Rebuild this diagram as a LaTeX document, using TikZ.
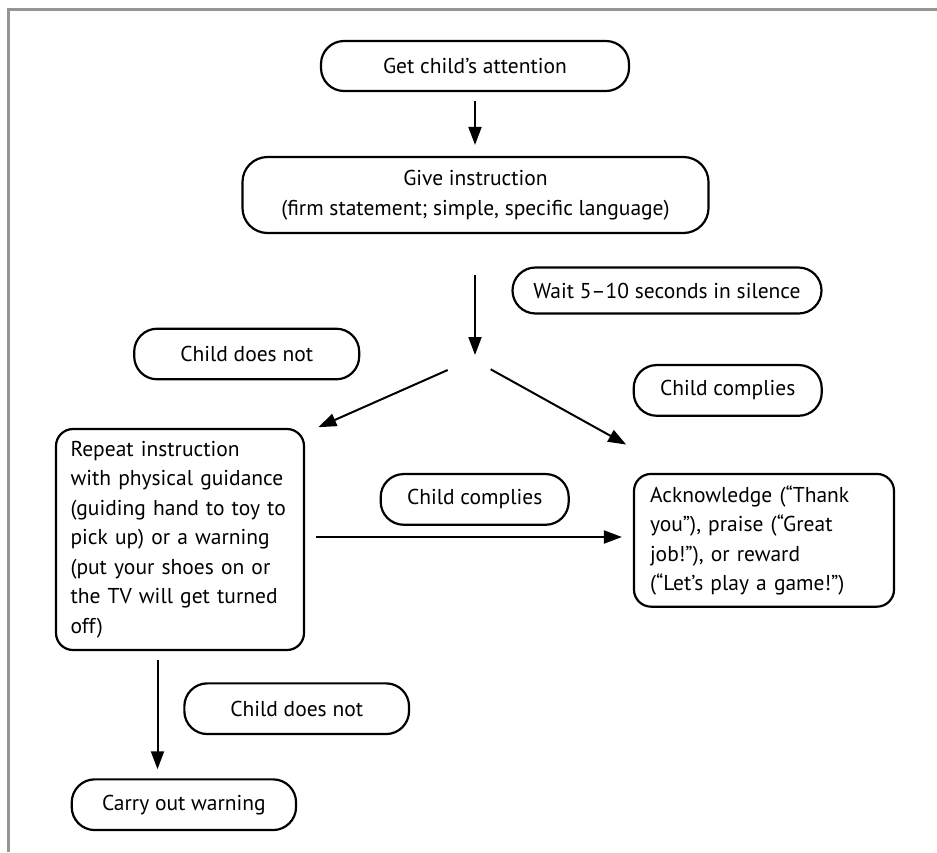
\documentclass[tikz,border=0pt]{standalone}
\usepackage{fontspec}
\setmainfont{PT Sans}
\usetikzlibrary{arrows.meta,calc}
\definecolor{frameGray}{HTML}{959595}
\begin{document}
\begin{tikzpicture}[x=1pt,y=-1pt,
  box/.style={draw=black, line width=2.2pt, rounded corners=#1, inner sep=0pt,
              font=\fontsize{21.5}{29.5}\selectfont},
  box/.default=23pt,
  arr/.style={line width=2pt, -{Triangle[length=18pt,width=13pt]}},
  frame/.style={draw=frameGray, line width=3pt}]
\useasboundingbox (0,0) rectangle (937,852);

% page frame (top and left edges)
\draw[frame] (8.5,852) -- (8.5,9.5) -- (937,9.5);

% steps
\node[box, minimum width=308pt, minimum height=50pt] (attn) at (475,66) {Get child’s attention};
\node[box=25pt, minimum width=466pt, minimum height=76pt, align=center] (instr) at (475.5,195)
  {Give instruction\\(firm statement; simple, specific language)};
\node[box, minimum width=309pt, minimum height=46pt] (wait) at (667,290.5) {Wait 5–10 seconds in silence};
\node[box, minimum width=225pt, minimum height=50.6pt] (notA) at (246.7,354) {Child does not};
\node[box, minimum width=188pt, minimum height=50.7pt] (compA) at (727.7,390.4) {Child complies};
\node[box=17pt, minimum width=248pt, minimum height=221pt, text width=219pt, align=left] (repeat) at (180,539.5)
  {Repeat instruction\\with physical guidance\\(guiding hand to toy to\\pick up) or a warning\\(put your shoes on or\\the TV will get turned\\off)};
\node[box, minimum width=188pt, minimum height=50.7pt] (compB) at (474.7,499.4) {Child complies};
\node[box=17pt, minimum width=260pt, minimum height=132.7pt, text width=228pt, align=left] (ack) at (764,540.3)
  {Acknowledge (“Thank\\you”), praise (“Great\\job!”), or reward\\(“Let’s play a game!”)};
\node[box, minimum width=224.7pt, minimum height=50.7pt] (notB) at (296.7,708.7) {Child does not};
\node[box, minimum width=224.3pt, minimum height=50.7pt] (carry) at (183.9,804.7) {Carry out warning};

% connectors
\coordinate (fork) at (475,355);
\coordinate (forkL) at (447.7,370);
\coordinate (forkR) at (490.7,369.3);
\draw[arr, shorten <=9pt, shorten >=11pt] (attn.south) -- (attn.south |- instr.north);
\draw[arr, shorten <=41pt] (instr.south -| fork) -- (fork);
\draw[arr] (forkL) -- ($(repeat.north east)+(13.3,-0.7)$);
\draw[arr] (forkR) -- ($(ack.north west)+(-6.7,-28.3)$);
\draw[arr, shorten <=11pt, shorten >=11pt] ([yshift=2.5pt]repeat.east) -- ([yshift=2.5pt]repeat.east -| ack.west);
\draw[arr, shorten <=9pt, shorten >=9pt] ([xshift=-22.5pt]repeat.south) -- ([xshift=-22.5pt]repeat.south |- carry.north);
\end{tikzpicture}
\end{document}
